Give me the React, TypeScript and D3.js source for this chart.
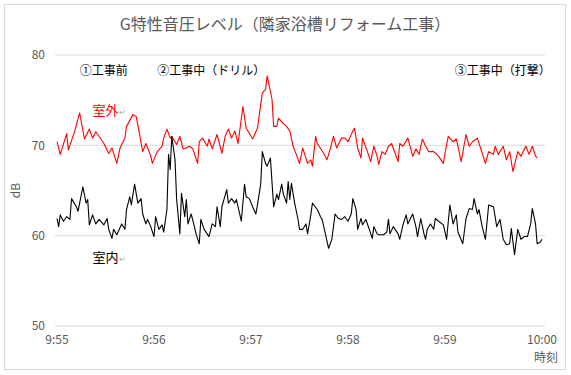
import * as d3 from "d3";

// seconds from 9:55:00
const outTime = [
  0, 2, 6, 7, 11, 14, 17, 20, 22, 24,
  26, 29, 32, 34, 37, 39, 42, 43, 47, 49,
  51, 53, 55, 58, 59, 62, 65, 66, 68, 70,
  71, 74, 76, 78, 80, 82, 84, 87, 88, 90,
  93, 94, 96, 99, 102, 104, 106, 108, 110, 112,
  115, 117, 119, 121, 124, 127, 129, 130, 133, 134,
  136, 137, 140, 142, 144, 146, 148, 150, 152, 155,
  157, 158, 160, 161, 165, 167, 169, 171, 173, 176,
  178, 180, 183, 184, 186, 188, 189, 192, 194, 196,
  198, 199, 201, 203, 205, 207, 208, 211, 212, 214,
  217, 220, 222, 224, 226, 228, 230, 233, 236, 239,
  240, 242, 245, 247, 248, 250, 253, 255, 257, 260,
  262, 265, 267, 270, 271, 273, 276, 278, 280, 282,
  285, 287, 290, 292, 294, 296, 297,
];
const outDb = [
  70.4, 69.0, 71.3, 69.5, 71.6, 73.6, 70.7, 71.8, 70.8, 71.5,
  71.0, 70.2, 69.1, 69.7, 68.0, 69.7, 70.8, 72.1, 73.4, 73.2,
  71.3, 69.3, 70.2, 68.8, 68.0, 69.3, 69.9, 70.8, 71.8, 70.8,
  71.0, 70.1, 71.0, 69.6, 69.7, 69.9, 69.6, 68.0, 70.4, 70.8,
  69.9, 70.7, 69.6, 71.2, 69.1, 71.0, 71.8, 70.8, 71.6, 70.2,
  74.3, 71.9, 71.3, 70.7, 71.9, 75.8, 76.2, 77.7, 75.1, 72.1,
  72.1, 73.0, 72.4, 72.1, 71.6, 69.9, 69.0, 68.0, 69.7, 68.0,
  68.4, 67.7, 71.0, 70.2, 69.1, 68.4, 69.6, 71.0, 69.7, 70.8,
  70.8, 70.4, 71.6, 71.9, 69.7, 68.6, 70.8, 69.3, 68.2, 69.9,
  68.8, 67.9, 69.3, 69.0, 69.9, 70.2, 69.7, 68.2, 70.2, 69.9,
  70.8, 68.8, 69.6, 69.0, 70.7, 69.9, 69.3, 69.3, 68.8, 68.0,
  69.1, 71.0, 70.4, 70.7, 69.9, 68.2, 71.2, 69.9, 70.4, 70.8,
  69.7, 68.0, 69.3, 69.0, 69.9, 69.0, 69.9, 68.4, 69.3, 67.1,
  69.3, 68.8, 69.9, 69.0, 69.9, 68.8, 68.6,
];

const inTime = [
  0, 1, 2, 4, 6, 8, 9, 12, 13, 16,
  18, 19, 20, 22, 24, 26, 29, 31, 32, 34,
  35, 37, 40, 42, 43, 45, 46, 48, 50, 52,
  53, 55, 56, 58, 60, 61, 63, 65, 66, 68,
  69, 70, 71, 73, 74, 76, 77, 79, 80, 81,
  83, 85, 86, 88, 89, 91, 94, 96, 98, 99,
  101, 102, 105, 106, 108, 110, 111, 114, 116, 117,
  119, 121, 123, 124, 126, 127, 129, 130, 132, 134,
  136, 137, 139, 140, 142, 143, 144, 145, 147, 149,
  150, 152, 154, 155, 157, 158, 161, 163, 164, 166,
  168, 170, 171, 172, 174, 176, 178, 180, 182, 183,
  185, 186, 188, 189, 191, 193, 195, 196, 198, 199,
  202, 204, 205, 206, 208, 211, 212, 214, 216, 217,
  220, 222, 223, 225, 227, 228, 229, 231, 233, 234,
  236, 239, 241, 243, 245, 247, 248, 251, 253, 255,
  257, 258, 260, 261, 263, 265, 267, 270, 272, 274,
  276, 278, 280, 281, 283, 285, 287, 289, 291, 293,
  294, 296, 297, 299, 300,
];
const inDb = [
  61.9, 61.0, 62.3, 61.6, 62.1, 61.8, 64.1, 63.2, 62.7, 65.4,
  63.6, 64.0, 61.2, 62.3, 61.3, 61.8, 61.2, 61.9, 60.7, 59.7,
  60.7, 60.1, 61.3, 60.7, 62.9, 64.3, 63.4, 65.7, 63.6, 64.1,
  62.4, 61.3, 61.8, 61.0, 59.9, 62.1, 60.7, 61.2, 60.4, 62.9,
  69.0, 67.3, 71.0, 68.4, 64.0, 60.2, 64.7, 62.1, 64.0, 61.3,
  62.4, 61.0, 60.2, 59.1, 61.8, 60.7, 59.9, 61.3, 61.0, 63.2,
  61.0, 63.2, 65.1, 63.6, 64.1, 63.6, 64.0, 61.6, 65.7, 64.3,
  64.1, 63.2, 62.4, 63.4, 65.7, 69.3, 68.0, 67.7, 68.6, 63.2,
  64.6, 64.0, 65.7, 64.6, 63.6, 66.0, 64.0, 65.8, 63.6, 61.9,
  60.7, 60.7, 61.3, 60.2, 62.3, 63.6, 62.9, 62.1, 61.8, 60.2,
  58.6, 59.6, 61.0, 62.4, 61.9, 61.8, 62.1, 61.6, 62.4, 64.1,
  62.9, 60.7, 61.9, 61.2, 61.8, 60.8, 59.7, 61.0, 60.2, 60.1,
  60.1, 60.4, 61.8, 60.2, 61.0, 60.2, 59.6, 61.2, 62.3, 61.3,
  62.4, 61.0, 59.9, 61.9, 60.2, 59.6, 60.7, 61.3, 60.7, 61.9,
  61.6, 61.2, 59.6, 63.4, 61.3, 62.3, 60.4, 59.1, 61.9, 63.0,
  62.9, 64.1, 62.4, 62.9, 61.0, 59.6, 63.4, 63.2, 61.0, 61.8,
  59.6, 59.0, 59.1, 60.8, 57.9, 60.7, 59.6, 59.9, 59.9, 61.3,
  63.0, 61.3, 59.1, 59.3, 59.6,
];

const xTicks = [0, 60, 120, 180, 240, 300];
const xTickLabels = ["9:55", "9:56", "9:57", "9:58", "9:59", "10:00"];
const yTicks = [50, 60, 70, 80];

const title = "G特性音圧レベル（隣家浴槽リフォーム工事）";
const phases = [
  { t: 14, v: 78.3, label: "①工事前" },
  { t: 62, v: 78.3, label: "②工事中（ドリル）" },
  { t: 246, v: 78.3, label: "③工事中（打撃）" },
];
const seriesLabels = [
  { t: 22, v: 73.9, label: "室外", color: "#ff0000" },
  { t: 22, v: 57.6, label: "室内", color: "#000000" },
];

const W = 571;
const H = 375;
const FONT = "'Noto Sans CJK JP', 'Noto Sans', sans-serif";
const GREY = "#595959";

export default function App() {
  const x = d3.scaleLinear().domain([0, 300]).range([57, 542]);
  const y = d3.scaleLinear().domain([50, 80]).range([326, 55]);

  const outPath = d3
    .line<number>()
    .x((_, i) => x(outTime[i]))
    .y((d) => y(d))(outDb);
  const inPath = d3
    .line<number>()
    .x((_, i) => x(inTime[i]))
    .y((d) => y(d))(inDb);

  return (
    <svg
      width={W}
      height={H}
      viewBox={`0 0 ${W} ${H}`}
      style={{ position: "fixed", left: 0, top: 0, background: "#fff" }}
      fontFamily={FONT}
    >
      <rect x={4.5} y={4.5} width={561} height={365} fill="#fff" stroke="#d9d9d9" />
      <text x={285} y={30} textAnchor="middle" fontSize={16} fill={GREY}>
        {title}
      </text>

      {yTicks.map((v) => (
        <g key={v}>
          <line x1={55} x2={545} y1={y(v)} y2={y(v)} stroke="#d9d9d9" strokeWidth={1} />
          <text x={45} y={y(v)} dy="0.35em" textAnchor="end" fontSize={12} fill={GREY}>
            {v}
          </text>
        </g>
      ))}
      <text
        transform={`translate(20,${y(65)}) rotate(-90)`}
        textAnchor="middle"
        fontSize={12}
        fill={GREY}
      >
        dB
      </text>

      {xTicks.map((t, i) => (
        <text key={t} x={x(t)} y={344} textAnchor="middle" fontSize={12} fill={GREY}>
          {xTickLabels[i]}
        </text>
      ))}
      <text x={558} y={362} textAnchor="end" fontSize={12} fill={GREY}>
        時刻
      </text>

      <path d={outPath ?? ""} fill="none" stroke="#ff0000" strokeWidth={1.1} strokeLinejoin="round" />
      <path d={inPath ?? ""} fill="none" stroke="#000" strokeWidth={1.1} strokeLinejoin="round" />

      {phases.map((p) => (
        <text key={p.label} x={x(p.t)} y={y(p.v)} dy="0.35em" fontSize={12} fill="#000">
          {p.label}
        </text>
      ))}

      {seriesLabels.map((s) => (
        <text key={s.label} x={x(s.t)} y={y(s.v)} dy="0.35em" fontSize={13} fill={s.color}>
          {s.label}
          <tspan fontSize={8} fill="#a6a6a6">↵</tspan>
        </text>
      ))}
    </svg>
  );
}
